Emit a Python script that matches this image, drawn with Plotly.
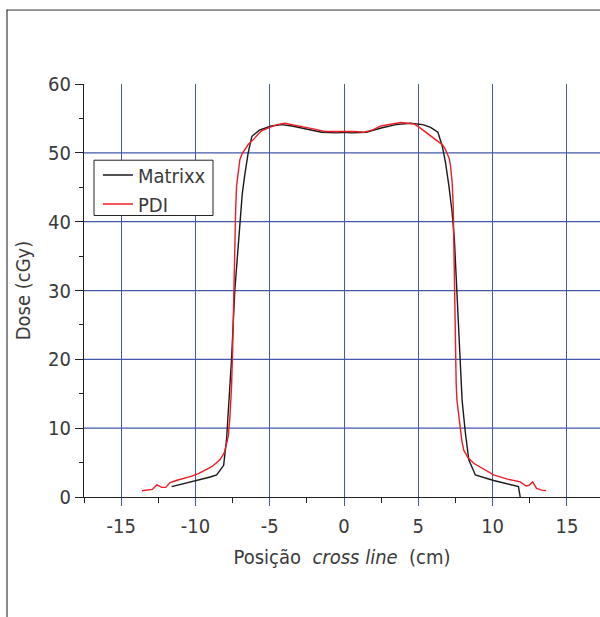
import plotly.graph_objects as go

# Cross-line dose profiles (position in cm, dose in cGy)
matrixx_x = [-11.6, -10.8, -9.8, -9.0, -8.57, -8.1, -7.9, -7.72, -7.57, -7.35, -7.15,
             -7.01, -6.85, -6.68, -6.45, -6.2, -5.7, -4.9, -4.2, -3.5, -2.5, -1.5,
             -0.5, 0.0, 0.5, 1.5, 2.5, 3.5, 4.49, 5.3, 5.83, 6.32, 6.61, 6.83, 7.06,
             7.28, 7.43, 7.6, 7.78, 7.95, 8.17, 8.4, 8.84, 10.07, 11.74, 11.86]
matrixx_y = [1.5, 1.9, 2.4, 2.9, 3.2, 4.6, 8.5, 14.0, 20.0, 30.0, 36.0,
             40.0, 44.0, 46.8, 50.0, 52.4, 53.3, 53.9, 54.1, 53.9, 53.4, 53.0,
             52.9, 53.0, 52.9, 53.0, 53.6, 54.1, 54.3, 54.1, 53.7, 53.0, 51.0, 48.6, 45.2,
             41.3, 37.4, 30.0, 20.0, 14.0, 9.3, 5.4, 3.2, 2.4, 1.5, 0.0]

pdi_x = [-13.6, -13.3, -12.9, -12.6, -12.26, -12.0, -11.7, -11.3, -10.9, -10.3, -9.8,
         -9.3, -8.9, -8.35, -8.06, -7.9, -7.79, -7.68, -7.57, -7.5, -7.46, -7.4,
         -7.35, -7.29, -7.23, -7.12, -7.01, -6.85, -6.68, -6.45, -6.2, -5.9, -5.56,
         -5.0, -4.5, -4.0, -3.5, -3.0, -2.45, -1.9, -1.33, -0.7, 0.0, 0.7, 1.33,
         1.9, 2.48, 3.2, 3.82, 4.3, 4.71, 5.0, 5.38, 5.7, 6.05, 6.35, 6.61, 6.8,
         6.94, 7.08, 7.17, 7.28, 7.35, 7.39, 7.43, 7.48, 7.55, 7.6, 7.7, 7.8, 7.93,
         8.06, 8.35, 8.73, 9.4, 10.07, 11.0, 11.86, 12.26, 12.45, 12.7, 12.96, 13.3, 13.6]
pdi_y = [0.9, 0.95, 1.1, 1.75, 1.4, 1.4, 2.1, 2.4, 2.6, 3.0, 3.4,
         3.9, 4.4, 5.4, 6.4, 7.8, 8.8, 11.5, 16.0, 21.0, 25.8, 32.0,
         37.9, 42.0, 45.2, 47.5, 49.0, 49.9, 50.5, 51.2, 51.7, 52.4, 53.2,
         53.7, 54.1, 54.3, 54.1, 53.9, 53.7, 53.4, 53.1, 53.1, 53.2, 53.1, 53.0,
         53.3, 53.9, 54.2, 54.4, 54.3, 54.2, 53.8, 53.2, 52.7, 52.2, 51.7, 51.2, 50.6,
         50.0, 49.2, 48.1, 45.7, 42.3, 37.4, 30.0, 22.0, 16.5, 14.1, 12.0, 10.2, 8.2,
         6.8, 5.7, 4.9, 4.0, 3.2, 2.6, 2.2, 1.6, 1.7, 2.2, 1.26, 1.0, 0.92]

x_ticks = [-15, -10, -5, 0, 5, 10, 15]
y_ticks = [0, 10, 20, 30, 40, 50, 60]

FONT = "DejaVu Sans Condensed, Liberation Sans Narrow, sans-serif"
TEXT = "#3a3a3a"
GRID = "#4259ab"

fig = go.Figure()
fig.add_trace(go.Scatter(x=matrixx_x, y=matrixx_y, mode="lines", name="Matrixx",
                         line=dict(color="#1a1a1a", width=1.4)))
fig.add_trace(go.Scatter(x=pdi_x, y=pdi_y, mode="lines", name="PDI",
                         line=dict(color="#ee1c24", width=1.4)))

# horizontal grid lines inside the plot (none on the top edge)
for v in y_ticks[1:-1]:
    fig.add_shape(type="line", xref="paper", yref="y", x0=0, x1=1, y0=v, y1=v,
                  line=dict(color=GRID, width=1.25), layer="below")

# white legend panel with a thin dark border
fig.add_shape(type="rect", xref="paper", yref="paper",
              x0=0.0194, x1=0.25, y0=0.6816, y1=0.8155,
              fillcolor="white", line=dict(color="#222222", width=1), layer="above")

# page frame: left and top rules
fig.add_shape(type="line", xref="paper", yref="paper", x0=-0.1492, x1=-0.1492,
              y0=1.18, y1=-0.3, line=dict(color="#8a8a8a", width=2))
fig.add_shape(type="line", xref="paper", yref="paper", x0=-0.1502, x1=1.02,
              y0=1.179, y1=1.179, line=dict(color="#333333", width=1))

fig.update_layout(
    width=600, height=617,
    margin=dict(l=84, r=0, t=84, b=120),
    paper_bgcolor="white", plot_bgcolor="white",
    font=dict(family=FONT, color=TEXT, size=20),
    showlegend=True,
    legend=dict(x=0.027, y=0.827, xanchor="left", yanchor="top",
                borderwidth=0, bgcolor="rgba(0,0,0,0)",
                font=dict(size=20, family=FONT, color=TEXT),
                tracegroupgap=0, itemwidth=30),
    xaxis=dict(range=[-17.5, 17.23], tickvals=x_ticks,
               ticktext=[str(v) for v in x_ticks],
               showgrid=True, gridcolor=GRID, gridwidth=1.25,
               zeroline=False, showline=True, linecolor="#222222", linewidth=1.2,
               ticks="outside", ticklen=8, tickcolor=GRID, tickwidth=1.25,
               ticklabelstandoff=3,
               minor=dict(dtick=2.5, tick0=0, ticks="outside", ticklen=5,
                          tickcolor="#222222", tickwidth=1, showgrid=False),
               title=dict(text="Posição  <i>cross line</i>  (cm)", standoff=12,
                          font=dict(size=20)),
               tickfont=dict(size=20)),
    yaxis=dict(range=[0, 60], tickvals=y_ticks, ticktext=[str(v) for v in y_ticks],
               showgrid=False, zeroline=False, showline=True, linecolor="#222222",
               linewidth=1.2, ticks="outside", ticklen=8, tickcolor="#222222",
               tickwidth=1,
               minor=dict(dtick=5, tick0=0, ticks="outside", ticklen=4,
                          tickcolor="#222222", tickwidth=1, showgrid=False),
               title=dict(text="Dose (cGy)", standoff=12, font=dict(size=20)),
               tickfont=dict(size=20)),
)

fig.write_html("out.html")
